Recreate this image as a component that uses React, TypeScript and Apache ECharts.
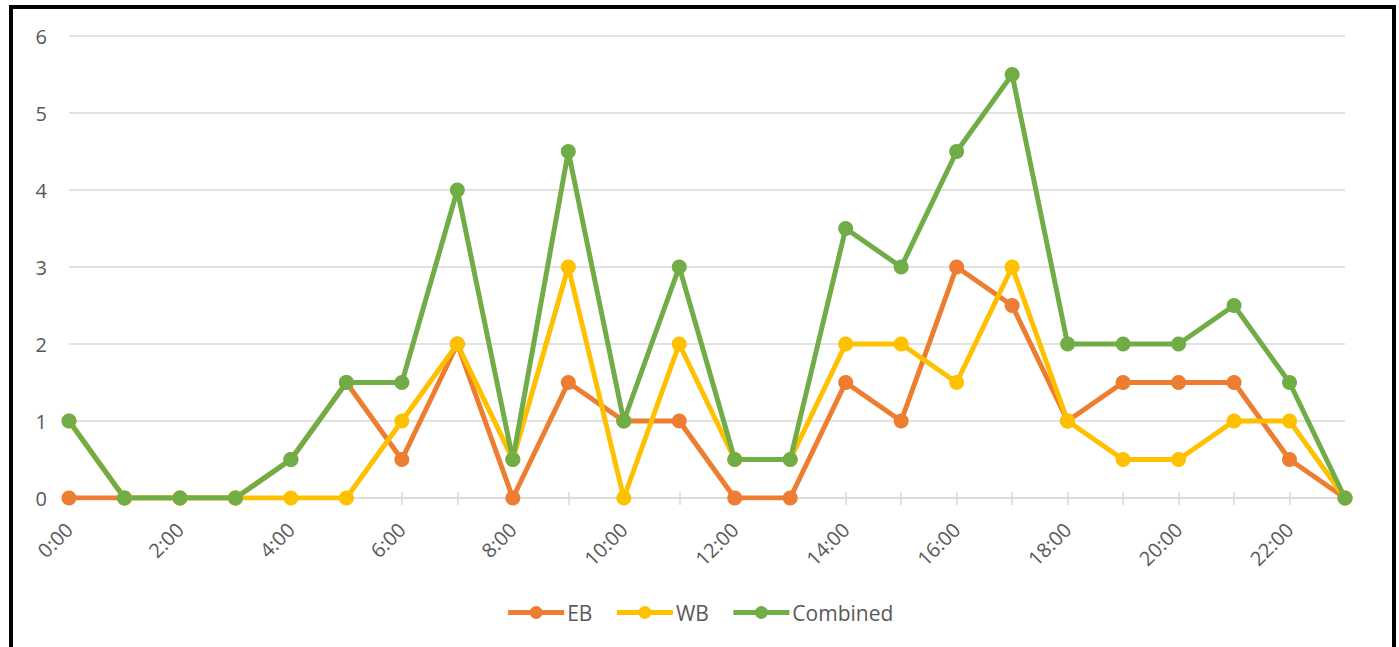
import React, { useEffect, useRef } from "react";
import * as echarts from "echarts";

const hours = ["0:00","1:00","2:00","3:00","4:00","5:00","6:00","7:00","8:00","9:00","10:00","11:00","12:00","13:00","14:00","15:00","16:00","17:00","18:00","19:00","20:00","21:00","22:00","23:00"];
const eb = [0,0,0,0,0.5,1.5,0.5,2,0,1.5,1,1,0,0,1.5,1,3,2.5,1,1.5,1.5,1.5,0.5,0];
const wb = [1,0,0,0,0,0,1,2,0.5,3,0,2,0.5,0.5,2,2,1.5,3,1,0.5,0.5,1,1,0];
const combined = [1,0,0,0,0.5,1.5,1.5,4,0.5,4.5,1,3,0.5,0.5,3.5,3,4.5,5.5,2,2,2,2.5,1.5,0];

const FONT = "'Open Sans', 'Noto Sans', sans-serif";

export default function App() {
  const ref = useRef<HTMLDivElement>(null);
  useEffect(() => {
    document.body.style.margin = "0";
    const chart = echarts.init(ref.current!, null, { renderer: "svg" });
    const mk = (name: string, data: number[], color: string) => ({
      name,
      type: "line",
      xAxisIndex: 0,
      data,
      symbol: "circle",
      symbolSize: 15,
      itemStyle: { color },
      lineStyle: { color, width: 5 },
      emphasis: { disabled: true },
    });
    chart.setOption({
      animation: false,
      textStyle: { fontFamily: FONT },
      graphic: [
        {
          type: "rect",
          shape: { x: 11, y: 7, width: 1383, height: 680 },
          style: { fill: "none", stroke: "#000", lineWidth: 4 },
          silent: true,
          z: 100,
        },
      ],
      grid: { left: 69, right: 54, top: 36, bottom: 149 },
      legend: {
        bottom: 19,
        left: "center",
        itemWidth: 56,
        itemHeight: 16,
        itemGap: 22,
        lineStyle: { width: 5 },
        textStyle: { color: "#595959", fontSize: 21, fontFamily: FONT, padding: [0, 0, 0, -2] },
        data: ["EB", "WB", "Combined"],
      },
      xAxis: [
        {
          type: "category",
          data: hours,
          boundaryGap: false,
          axisLine: { lineStyle: { color: "#d9d9d9", width: 1.5 } },
          axisTick: { show: true, length: 7, interval: 0, lineStyle: { color: "#d9d9d9", width: 1.5 } },
          axisLabel: { interval: 1, rotate: 45, margin: 28, color: "#595959", fontSize: 20, fontFamily: FONT },
        },
        {
          type: "category",
          data: hours,
          boundaryGap: false,
          position: "bottom",
          axisLine: { show: false },
          axisTick: { show: true, inside: true, length: 6, interval: 0, lineStyle: { color: "#d9d9d9", width: 1.5 } },
          axisLabel: { show: false },
        },
      ],
      yAxis: {
        type: "value",
        min: 0,
        max: 6,
        interval: 1,
        axisLine: { show: false },
        axisTick: { show: false },
        axisLabel: { margin: 22, color: "#595959", fontSize: 20, fontFamily: FONT },
        splitLine: { lineStyle: { color: "#d9d9d9", width: 1.5 } },
      },
      series: [
        mk("EB", eb, "#ED7D31"),
        mk("WB", wb, "#FFC000"),
        mk("Combined", combined, "#70AD47"),
      ],
    });
    return () => chart.dispose();
  }, []);
  return <div ref={ref} style={{ width: 1399, height: 647 }} />;
}
